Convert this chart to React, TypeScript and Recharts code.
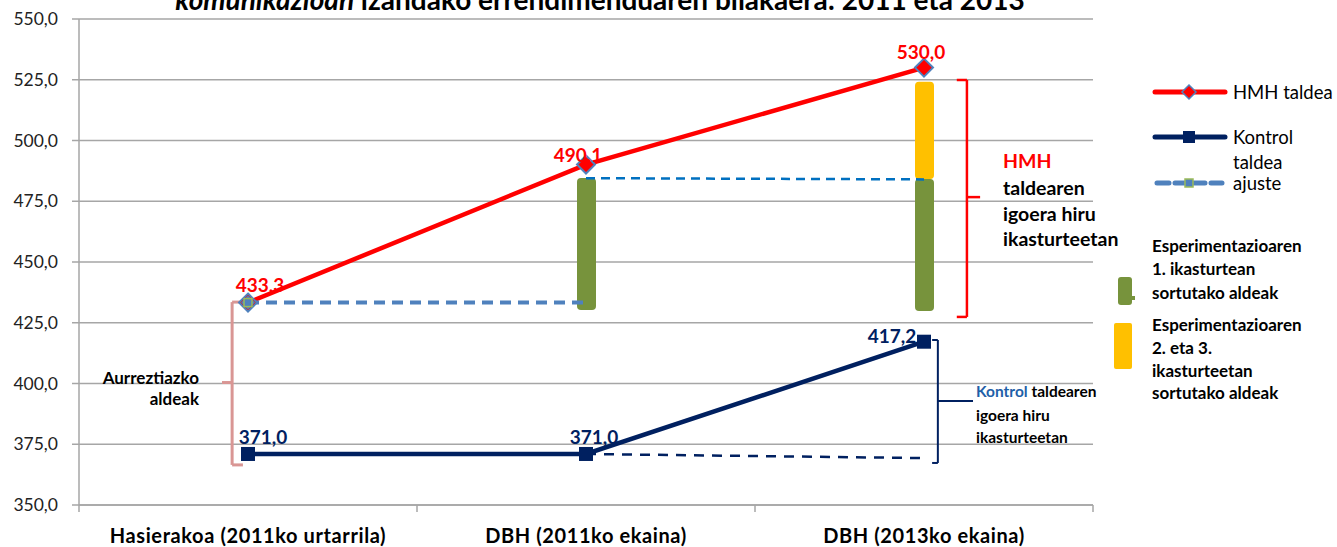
import React from 'react';
import { ComposedChart, Line, Bar, XAxis, YAxis, CartesianGrid, ReferenceLine, LabelList, Customized } from 'recharts';

const categories = ['Hasierakoa (2011ko urtarrila)', 'DBH (2011ko ekaina)', 'DBH (2013ko ekaina)'];
const hmh = [433.3, 490.1, 530.0];
const kontrol = [371.0, 371.0, 417.2];
const ajusteHmh1 = [433.3, 433.3, null];
const ajusteHmh2 = [null, 484.5, 484.0];
const ajusteKontrol = [null, 371.0, 369.3];
const barBase = [null, 430.2, 429.8];
const barYear1 = [null, 54.4, 54.4];
const barYears23 = [null, null, 40.0];
const yTicks = [350, 375, 400, 425, 450, 475, 500, 525, 550];
const xTicks = [-0.5, 0, 0.5, 1, 1.5, 2, 2.5];

// brackets in data coordinates (x on numeric category index axis)
const hmhBracket = { x: 2.127, hookX: 2.097, notchX: 2.166, top: 524.9, bottom: 427.4, mid: 476.7 };
const priorBracket = { x: -0.047, hookX: -0.015, notchX: -0.077, top: 433.5, bottom: 366.5, mid: 400.4 };
const kontrolBracket = { x: 2.041, hookX: 2.024, notchX: 2.145, top: 417.9, bottom: 367.3, mid: 392.8 };

const FONT = 'Lato, "Open Sans", sans-serif';
const RED = '#FF0000';
const NAVY = '#002060';
const LBLUE = '#4F81BD';
const GREEN = '#77933C';
const YELLOW = '#FFC000';
const GRID = '#A6A6A6';

const hmhLabelOffsets = [[12, -18], [-8, -10], [-3, -16]];
const kontrolLabelOffsets = [[15, -17], [8, -17], [-32, -6]];

const data = categories.map((name, i) => ({
  idx: i,
  name,
  hmh: hmh[i],
  kontrol: kontrol[i],
  aj1: ajusteHmh1[i],
  aj2: ajusteHmh2[i],
  ajk: ajusteKontrol[i],
  base: barBase[i],
  year1: barYear1[i],
  years23: barYears23[i],
}));

const fmt = (v: number) => v.toFixed(1).replace('.', ',');

const Diamond = (props: any) => {
  const { cx, cy } = props;
  if (cx == null || cy == null) return null;
  const r = 9;
  return (
    <path d={`M${cx},${cy - r} L${cx + r},${cy} L${cx},${cy + r} L${cx - r},${cy} Z`} fill={RED} stroke={LBLUE} strokeWidth={2} />
  );
};

const Square = (props: any) => {
  const { cx, cy } = props;
  if (cx == null || cy == null) return null;
  return <rect x={cx - 7} y={cy - 7} width={14} height={14} fill={NAVY} />;
};

const AjusteDot = (props: any) => {
  const { cx, cy, index } = props;
  if (index !== 0 || cx == null || cy == null) return null;
  const r = 7;
  return (
    <g>
      <path d={`M${cx},${cy - r} L${cx + r},${cy} L${cx},${cy + r} L${cx - r},${cy} Z`} fill={LBLUE} />
      <rect x={cx - 4} y={cy - 4} width={8} height={8} fill={LBLUE} stroke="#9BBB59" strokeWidth={1.5} />
    </g>
  );
};

const makeLabel = (color: string, offsets: number[][]) => (props: any) => {
  const { x, y, index, value } = props;
  if (value == null) return null;
  const [dx, dy] = offsets[index];
  return (
    <text x={x + dx} y={y + dy} textAnchor="middle" dominantBaseline="central" fill={color} fontFamily={FONT} fontWeight={700} fontSize={19}>
      {fmt(value)}
    </text>
  );
};

const XTick = (props: any) => {
  const { x, y, payload } = props;
  const v = payload.value;
  if (Math.abs(v - Math.round(v)) > 0.01) {
    return <line x1={x} x2={x} y1={y} y2={y + 7} stroke={GRID} strokeWidth={1.5} />;
  }
  return (
    <text x={x} y={y + 30} textAnchor="middle" dominantBaseline="central" fill="#000" fontFamily={FONT} fontWeight={700} fontSize={20} letterSpacing={0.6}>
      {categories[Math.round(v)]}
    </text>
  );
};

const bracketLines = (b: any, color: string, width: number, key: string) => {
  const segs = [
    [{ x: b.x, y: b.top }, { x: b.x, y: b.bottom }],
    [{ x: b.hookX, y: b.top }, { x: b.x, y: b.top }],
    [{ x: b.hookX, y: b.bottom }, { x: b.x, y: b.bottom }],
    [{ x: b.x, y: b.mid }, { x: b.notchX, y: b.mid }],
  ];
  return segs.map((s, i) => (
    <ReferenceLine key={`${key}${i}`} segment={s as any} stroke={color} strokeWidth={width} ifOverflow="visible" />
  ));
};

const Overlay = () => {
  const t = { fontFamily: FONT, fontWeight: 700 } as any;
  return (
    <g>
      <text x={600} y={10} textAnchor="middle" fontFamily={FONT} fontWeight={700} fontSize={28} fill="#000">
        <tspan fontStyle="italic">komunikazioan</tspan> izandako errendimenduaren bilakaera: 2011 eta 2013
      </text>
      {/* legend */}
      <line x1={1155} x2={1225} y1={92} y2={92} stroke={RED} strokeWidth={5} strokeLinecap="round" />
      <path d="M1189,85 L1196,92 L1189,99 L1182,92 Z" fill={RED} stroke={LBLUE} strokeWidth={1.5} />
      <text x={1233} y={92} dominantBaseline="central" fontFamily={FONT} fontSize={18.5} fill="#000">HMH taldea</text>
      <line x1={1155} x2={1225} y1={137} y2={137} stroke={NAVY} strokeWidth={5} strokeLinecap="round" />
      <rect x={1183} y={131} width={12} height={12} fill={NAVY} />
      <text x={1233} y={137} dominantBaseline="central" fontFamily={FONT} fontSize={18.5} fill="#000">Kontrol</text>
      <text x={1233} y={162} dominantBaseline="central" fontFamily={FONT} fontSize={18.5} fill="#000">taldea</text>
      <line x1={1157} x2={1222} y1={183} y2={183} stroke={LBLUE} strokeWidth={5} strokeDasharray="12 6" strokeLinecap="round" />
      <rect x={1185} y={179} width={8} height={8} fill={LBLUE} stroke="#9BBB59" strokeWidth={1.5} />
      <text x={1233} y={183} dominantBaseline="central" fontFamily={FONT} fontSize={18.5} fill="#000">ajuste</text>

      {/* HMH bracket text */}
      <text x={1003} y={160} dominantBaseline="central" {...t} fontSize={19.5} fill={RED}>HMH</text>
      <text x={1003} y={187} dominantBaseline="central" {...t} fontSize={19.5} fill="#000">taldearen</text>
      <text x={1003} y={213} dominantBaseline="central" {...t} fontSize={19.5} fill="#000">igoera hiru</text>
      <text x={1003} y={238} dominantBaseline="central" {...t} fontSize={19.5} fill="#000">ikasturteetan</text>

      {/* bar legend */}
      <rect x={1118} y={277} width={14} height={28} rx={3} fill={GREEN} />
      <rect x={1129} y={296} width={6} height={4} fill={GREEN} />
      <text x={1152} y={245} dominantBaseline="central" {...t} fontSize={17} fill="#000">Esperimentazioaren</text>
      <text x={1152} y={268} dominantBaseline="central" {...t} fontSize={17} fill="#000">1. ikasturtean</text>
      <text x={1152} y={292} dominantBaseline="central" {...t} fontSize={17} fill="#000">sortutako aldeak</text>
      <rect x={1114} y={323} width={18} height={46} rx={2} fill={YELLOW} />
      <text x={1152} y={324} dominantBaseline="central" {...t} fontSize={17} fill="#000">Esperimentazioaren</text>
      <text x={1152} y={347} dominantBaseline="central" {...t} fontSize={17} fill="#000">2. eta 3.</text>
      <text x={1152} y={370} dominantBaseline="central" {...t} fontSize={17} fill="#000">ikasturteetan</text>
      <text x={1152} y={392} dominantBaseline="central" {...t} fontSize={17} fill="#000">sortutako aldeak</text>

      {/* prior differences */}
      <text x={199} y={377} textAnchor="end" dominantBaseline="central" {...t} fontSize={17} fill="#000">Aurreztiazko</text>
      <text x={199} y={398} textAnchor="end" dominantBaseline="central" {...t} fontSize={17} fill="#000">aldeak</text>

      {/* kontrol text */}
      <text x={976} y={391} dominantBaseline="central" {...t} fontSize={15.5} fill="#000">
        <tspan fill="#1F5FA8">Kontrol</tspan> taldearen
      </text>
      <text x={976} y={415} dominantBaseline="central" {...t} fontSize={15.5} fill="#000">igoera hiru</text>
      <text x={976} y={437} dominantBaseline="central" {...t} fontSize={15.5} fill="#000">ikasturteetan</text>
    </g>
  );
};

export default function App() {
  return (
    <div style={{ position: 'absolute', left: 0, top: 0, width: 1337, height: 547, background: '#fff' }}>
      <ComposedChart width={1337} height={547} data={data} margin={{ top: 19, right: 244, bottom: 7, left: 0 }}>
        <CartesianGrid horizontal={true} vertical={false} stroke={GRID} strokeWidth={1.5} />
        <XAxis
          dataKey="idx"
          type="number"
          domain={[-0.5, 2.5]}
          ticks={xTicks}
          allowDataOverflow
          allowDecimals
          interval={0}
          height={35}
          tickLine={false}
          tickSize={0}
          tickMargin={0}
          axisLine={{ stroke: GRID, strokeWidth: 1.5 }}
          tick={<XTick />}
        />
        <YAxis
          width={79}
          domain={[350, 550]}
          ticks={yTicks}
          allowDataOverflow
          interval={0}
          tickFormatter={fmt}
          tickSize={7}
          tickMargin={14}
          tickLine={{ stroke: GRID, strokeWidth: 1.5 }}
          axisLine={{ stroke: GRID, strokeWidth: 1.5 }}
          tick={{ fill: '#222', fontFamily: FONT, fontSize: 17.5 }}
        />
        <Bar dataKey="base" stackId="r" fill="transparent" barSize={19} isAnimationActive={false} />
        <Bar dataKey="year1" stackId="r" fill={GREEN} barSize={19} radius={[4, 4, 4, 4]} isAnimationActive={false} />
        <Bar dataKey="years23" stackId="r" fill={YELLOW} barSize={19} radius={[4, 4, 4, 4]} isAnimationActive={false} />
        {bracketLines(priorBracket, '#D99694', 3, 'p')}
        {bracketLines(hmhBracket, RED, 2.5, 'h')}
        {bracketLines(kontrolBracket, NAVY, 2, 'k')}
        <Line dataKey="aj2" stroke="#0070C0" strokeWidth={2.5} strokeDasharray="9 6" dot={false} activeDot={false} isAnimationActive={false} />
        <Line dataKey="ajk" stroke={NAVY} strokeWidth={2.5} strokeDasharray="10 8" dot={false} activeDot={false} isAnimationActive={false} />
        <Line dataKey="kontrol" stroke={NAVY} strokeWidth={4.5} dot={<Square />} activeDot={false} isAnimationActive={false}>
          <LabelList dataKey="kontrol" content={makeLabel(NAVY, kontrolLabelOffsets)} />
        </Line>
        <Line dataKey="hmh" stroke={RED} strokeWidth={4.5} dot={<Diamond />} activeDot={false} isAnimationActive={false}>
          <LabelList dataKey="hmh" content={makeLabel(RED, hmhLabelOffsets)} />
        </Line>
        <Line dataKey="aj1" stroke={LBLUE} strokeWidth={4} strokeDasharray="11 7" dot={<AjusteDot />} activeDot={false} isAnimationActive={false} />
        <Customized component={<Overlay />} />
      </ComposedChart>
    </div>
  );
}
